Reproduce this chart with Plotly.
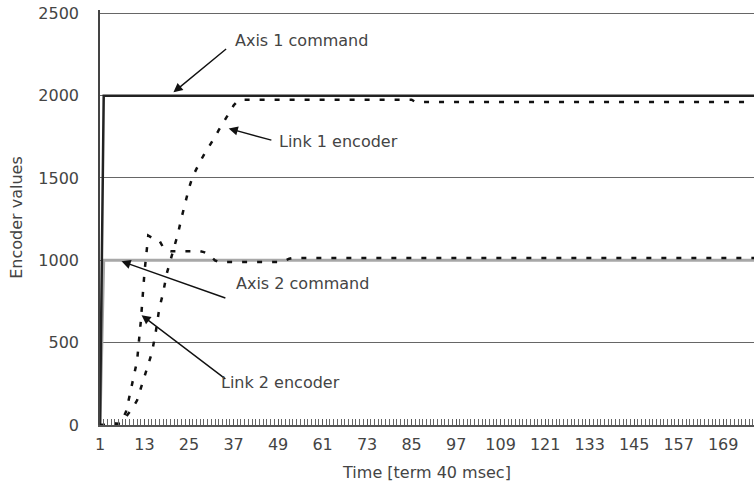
import plotly.graph_objects as go

time_steps = list(range(1, 181))

axis1_command = [0] + [2000] * 179
axis2_command = [0] + [1000] * 179

link1_encoder = ([0, 0, 0, 0, 5, 10, 20, 50, 80, 110,
                  150, 220, 290, 365, 440, 560, 710, 800, 920, 1000,
                  1080, 1160, 1260, 1360, 1440, 1510, 1560, 1600, 1640, 1675,
                  1710, 1750, 1790, 1830, 1865, 1900, 1940, 1965]
                 + [1975] * 47 + [1962] * 95)

link2_encoder = ([0, 0, 0, 0, 10, 5, 30, 80, 180, 280,
                  390, 630, 930, 1150, 1135, 1125, 1120, 1080, 1060, 1055,
                  1055, 1055, 1055, 1055, 1055, 1055, 1055, 1055, 1050, 1040,
                  1020, 1000]
                 + [990] * 18 + [1000, 1010, 1014] + [1014] * 127)

x_tick_vals = list(range(1, 181, 12))
y_tick_vals = [0, 500, 1000, 1500, 2000, 2500]

FONT = "DejaVu Sans"
TXT = "#444444"

fig = go.Figure()
fig.add_trace(go.Scatter(x=time_steps, y=axis2_command, mode="lines",
                         line=dict(color="#a8a8a8", width=3), name="Axis 2 command"))
fig.add_trace(go.Scatter(x=time_steps, y=axis1_command, mode="lines",
                         line=dict(color="#222222", width=2.5), name="Axis 1 command"))
fig.add_trace(go.Scatter(x=time_steps, y=link1_encoder, mode="lines",
                         line=dict(color="#111111", width=2.5, dash="5px,10px"), name="Link 1 encoder"))
fig.add_trace(go.Scatter(x=time_steps, y=link2_encoder, mode="lines",
                         line=dict(color="#111111", width=2.5, dash="5px,10px"), name="Link 2 encoder"))

ann = []
def arrow(hx, hy, tx, ty):
    ann.append(dict(x=hx, y=hy, ax=tx, ay=ty, axref="x", ayref="y", xref="x", yref="y",
                    text="", showarrow=True, arrowhead=2, arrowsize=1.3, arrowwidth=1.4,
                    arrowcolor="#111111"))
def label(x, y, t):
    ann.append(dict(x=x, y=y, xref="x", yref="y", text=t, showarrow=False,
                    xanchor="left", yanchor="middle", font=dict(family=FONT, size=16, color=TXT)))

arrow(20.8, 2020, 35.4, 2291)
label(36.8, 2333, "Axis 1 command")
arrow(35.7, 1800, 47.6, 1727)
label(48.7, 1721, "Link 1 encoder")
arrow(6.8, 994, 35.2, 768)
label(37, 861, "Axis 2 command")
arrow(12.2, 667, 35.2, 273)
label(33, 260, "Link 2 encoder")

fig.update_layout(
    width=754, height=492,
    margin=dict(l=100, r=0, t=10, b=67),
    paper_bgcolor="white", plot_bgcolor="white",
    showlegend=False,
    font=dict(family=FONT, size=16, color=TXT),
    annotations=ann,
    xaxis=dict(range=[1, 177.3], tickvals=x_tick_vals, ticks="inside", ticklen=6,
               tickcolor="#555555", showgrid=False, showline=True, linecolor="#555555",
               linewidth=1.5, zeroline=False, automargin=False,
               minor=dict(ticks="inside", tick0=1, dtick=1, ticklen=6, tickcolor="#666666"),
               tickfont=dict(family=FONT, size=16, color=TXT), ticklabelstandoff=4,
               title=dict(text="Time [term 40 msec]", font=dict(family=FONT, size=16, color=TXT), standoff=14)),
    yaxis=dict(range=[0, 2520], tickvals=y_tick_vals, showgrid=True, gridcolor="#666666",
               gridwidth=1, showline=True, linecolor="#444444", linewidth=1.5, zeroline=False,
               ticks="", ticklabelstandoff=16, automargin=False,
               tickfont=dict(family=FONT, size=16, color=TXT),
               title=dict(text="Encoder values", font=dict(family=FONT, size=16, color=TXT), standoff=12)),
)

fig.write_html("out.html", config={"displayModeBar": False},
               post_script="document.body.style.margin='0';")
